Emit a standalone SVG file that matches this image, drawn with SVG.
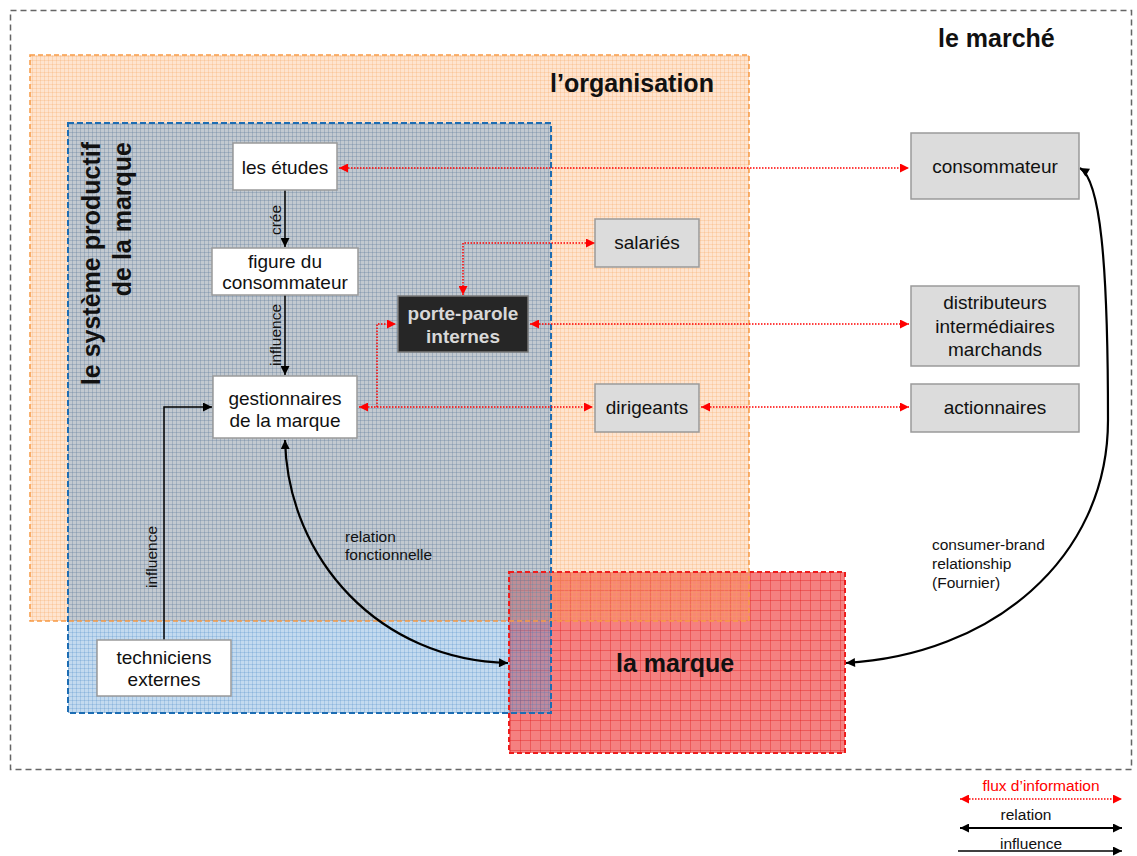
<svg xmlns="http://www.w3.org/2000/svg" width="1137" height="856" viewBox="0 0 1137 856">
<style>
text{font-family:"Liberation Sans",Arial,sans-serif;fill:#111}
.n{font-size:19px;text-anchor:middle}
.s{font-size:15.5px}
.t{font-size:25px;font-weight:bold}
.wb{fill:#fff;stroke:#9a9a9a;stroke-width:1.5}
.gb{fill:#dcdcdc;stroke:#9a9a9a;stroke-width:1.5}
.red{fill:none;stroke:#ff0000;stroke-width:1.5;stroke-dasharray:1.5 1.5}
.blk{fill:none;stroke:#000;stroke-width:1.5}
.crv{fill:none;stroke:#000;stroke-width:2.2}
</style>
<defs>
<pattern id="pOr" width="4" height="4" patternUnits="userSpaceOnUse">
<rect width="4" height="4" fill="#fa9e52" fill-opacity="0.28"/>
<path d="M0 0.5H4M0.5 0V4" stroke="#f7a35c" stroke-opacity="0.25" stroke-width="1"/>
</pattern>
<pattern id="pBl" width="4" height="4" patternUnits="userSpaceOnUse">
<rect width="4" height="4" fill="#5a9ad2" fill-opacity="0.36"/>
<path d="M0 0.5H4M0.5 0V4" stroke="#2f78bd" stroke-opacity="0.2" stroke-width="1"/>
</pattern>
<pattern id="pRd" width="10" height="10" patternUnits="userSpaceOnUse">
<rect width="10" height="10" fill="#ee2c2c" fill-opacity="0.6"/>
<path d="M0 0.5H10M0.5 0V10" stroke="#e01010" stroke-opacity="0.35" stroke-width="1"/>
</pattern>
<marker id="ar" viewBox="0 0 10 10" refX="10" refY="5" markerWidth="10" markerHeight="9" markerUnits="userSpaceOnUse" orient="auto-start-reverse">
<path d="M0 0L10 5L0 10z" fill="#ff0000"/>
</marker>
<marker id="ab" viewBox="0 0 10 10" refX="10" refY="5" markerWidth="10" markerHeight="9" markerUnits="userSpaceOnUse" orient="auto-start-reverse">
<path d="M0 0L10 5L0 10z" fill="#000"/>
</marker>
</defs>

<g id="regions">
<rect x="10.5" y="10.5" width="1121" height="759" fill="none" stroke="#666" stroke-width="1.5" stroke-dasharray="6 4"/>
<rect x="509" y="572" width="336" height="181" fill="url(#pRd)"/>
<rect x="30" y="55" width="719" height="566" fill="url(#pOr)"/>
<rect x="68" y="123" width="483" height="590" fill="url(#pBl)"/>
<rect x="509" y="572" width="336" height="181" fill="none" stroke="#ee1c1c" stroke-width="2" stroke-dasharray="5 3"/>
<rect x="30" y="55" width="719" height="566" fill="none" stroke="#f79a46" stroke-width="1.5" stroke-dasharray="5 3"/>
<rect x="68" y="123" width="483" height="590" fill="none" stroke="#1d6db3" stroke-width="2" stroke-dasharray="6 3"/>
<text class="t" x="938" y="47">le marché</text>
<text class="t" x="550" y="92">l’organisation</text>
<text class="t" x="616" y="672">la marque</text>
<text class="t" text-anchor="end" transform="translate(100,142) rotate(-90)">le système productif</text>
<text class="t" text-anchor="end" transform="translate(131,142) rotate(-90)">de la marque</text>
</g>

<g id="connectors">
<line class="red" x1="339" y1="168" x2="909" y2="168" marker-start="url(#ar)" marker-end="url(#ar)"/>
<polyline class="red" points="595,243 463,243 463,295" marker-start="url(#ar)" marker-end="url(#ar)"/>
<line class="red" x1="530" y1="324" x2="909" y2="324" marker-start="url(#ar)" marker-end="url(#ar)"/>
<line class="red" x1="359" y1="407" x2="593" y2="407" marker-start="url(#ar)" marker-end="url(#ar)"/>
<polyline class="red" points="377,407 377,324 396,324" marker-end="url(#ar)"/>
<line class="red" x1="701" y1="407" x2="909" y2="407" marker-start="url(#ar)" marker-end="url(#ar)"/>
<line class="blk" x1="285" y1="190" x2="285" y2="247" marker-end="url(#ab)"/>
<line class="blk" x1="285" y1="295" x2="285" y2="375" marker-end="url(#ab)"/>
<polyline class="blk" points="164,640 164,407 212,407" marker-end="url(#ab)"/>
<path class="crv" d="M285,440 C288,560 380,660 508,663" marker-start="url(#ab)" marker-end="url(#ab)"/>
<path class="crv" d="M1080,168 C1100,180 1108,260 1108,420 C1108,560 990,655 846,663" marker-start="url(#ab)" marker-end="url(#ab)"/>
<text class="s" text-anchor="middle" transform="translate(281,220) rotate(-90)">crée</text>
<text class="s" text-anchor="middle" transform="translate(281,335) rotate(-90)">influence</text>
<text class="s" text-anchor="middle" transform="translate(157,557) rotate(-90)">influence</text>
<text class="s" x="345" y="542">relation</text>
<text class="s" x="345" y="560">fonctionnelle</text>
<text class="s" x="932" y="550">consumer-brand</text>
<text class="s" x="932" y="569">relationship</text>
<text class="s" x="932" y="588">(Fournier)</text>
</g>

<g id="n-etudes"><rect class="wb" x="233" y="143" width="104" height="47"/><text class="n" x="285" y="174">les études</text></g>
<g id="n-figure"><rect class="wb" x="212" y="248" width="146" height="47"/><text class="n" x="285" y="268">figure du</text><text class="n" x="285" y="289">consommateur</text></g>
<g id="n-porte"><rect x="398" y="296" width="130" height="56" fill="#262626" stroke="#7a7a7a" stroke-width="1.5"/><text class="n" x="463" y="320" style="font-weight:bold;fill:#d8d8d8">porte-parole</text><text class="n" x="463" y="343" style="font-weight:bold;fill:#d8d8d8">internes</text></g>
<g id="n-gestion"><rect class="wb" x="213" y="376" width="144" height="62"/><text class="n" x="285" y="405">gestionnaires</text><text class="n" x="285" y="427">de la marque</text></g>
<g id="n-tech"><rect class="wb" x="97" y="640" width="134" height="56"/><text class="n" x="164" y="664">techniciens</text><text class="n" x="164" y="686">externes</text></g>
<g id="n-salaries"><rect class="gb" x="595" y="219" width="104" height="48"/><text class="n" x="647" y="249">salariés</text></g>
<g id="n-dirigeants"><rect class="gb" x="595" y="384" width="104" height="48"/><text class="n" x="647" y="414">dirigeants</text></g>
<g id="n-conso"><rect class="gb" x="911" y="133" width="168" height="66"/><text class="n" x="995" y="173">consommateur</text></g>
<g id="n-distrib"><rect class="gb" x="911" y="286" width="168" height="80"/><text class="n" x="995" y="309">distributeurs</text><text class="n" x="995" y="333">intermédiaires</text><text class="n" x="995" y="356">marchands</text></g>
<g id="n-action"><rect class="gb" x="911" y="384" width="168" height="48"/><text class="n" x="995" y="414">actionnaires</text></g>

<g id="legend">
<text class="s" x="1041" y="791" text-anchor="middle" style="fill:#ff0000">flux d’information</text>
<line class="red" x1="960" y1="799" x2="1122" y2="799" marker-start="url(#ar)" marker-end="url(#ar)"/>
<text class="s" x="1026" y="820" text-anchor="middle">relation</text>
<line x1="960" y1="828" x2="1122" y2="828" stroke="#000" stroke-width="2.2" marker-start="url(#ab)" marker-end="url(#ab)"/>
<text class="s" x="1031" y="849" text-anchor="middle">influence</text>
<line x1="958" y1="851" x2="1122" y2="851" stroke="#000" stroke-width="1.5" marker-end="url(#ab)"/>
</g>
</svg>
